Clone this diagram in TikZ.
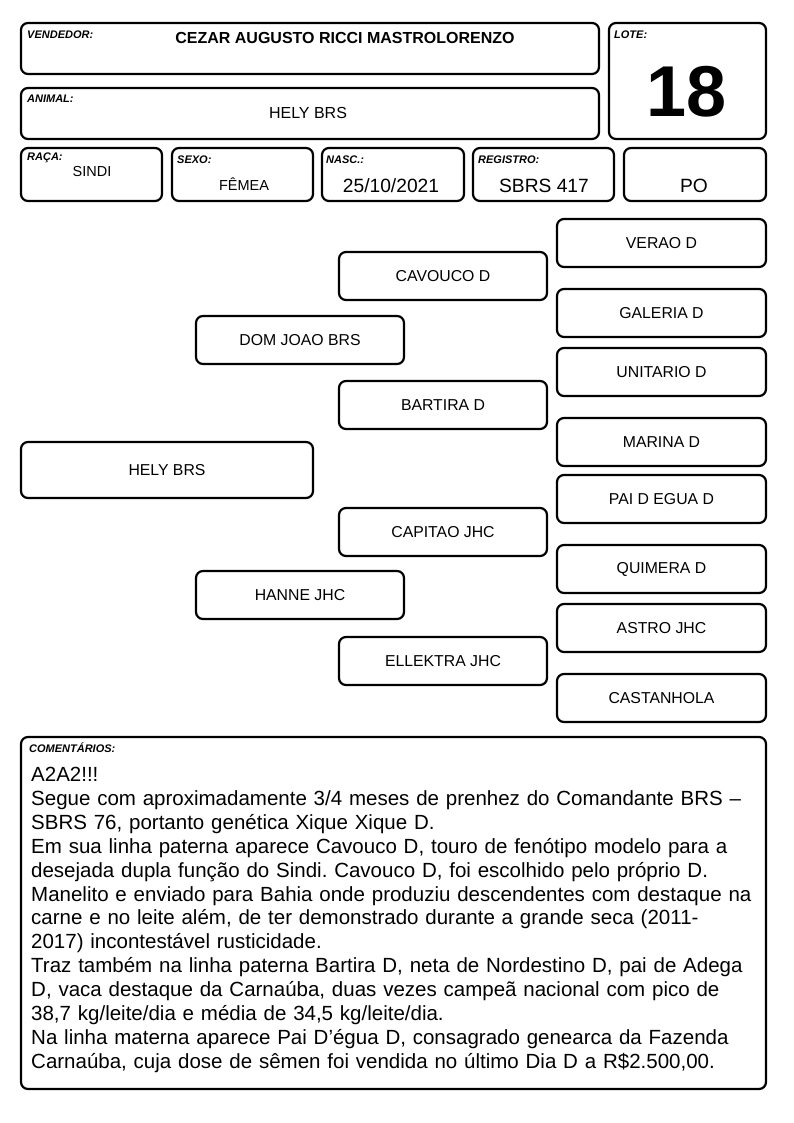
\documentclass[tikz,border=0pt]{standalone}
\usepackage{fontspec}
\setmainfont{Liberation Sans}
\usepackage{tikz}
\usetikzlibrary{positioning}
\frenchspacing

\begin{document}
\begin{tikzpicture}[
    x=1pt, y=-1pt,
    every node/.style={align=center, inner sep=0pt},
    campo/.style={
        rectangle, rounded corners=7pt, draw=black, line width=2.2pt,
        fill=white
    },
    pedbox/.style={
        campo, minimum width=208pt, minimum height=48pt,
        font=\fontsize{15.8}{18}\selectfont
    },
    rotulo/.style={anchor=west, font=\fontsize{11}{13}\selectfont\bfseries\itshape},
    valor/.style={font=\fontsize{16}{19}\selectfont}
]
\useasboundingbox (0,0) rectangle (794,1123);

% cabeçalho
\draw[campo] (21,23) rectangle (599,74);
\draw[campo] (609,23) rectangle (766,139);
\draw[campo] (21,88) rectangle (599,139);
\draw[campo] (21,148) rectangle (162,201);
\draw[campo] (172,148) rectangle (313,201);
\draw[campo] (322,148) rectangle (464,201);
\draw[campo] (473,148) rectangle (614,201);
\draw[campo] (624,148) rectangle (766,201);

\node[rotulo] (vendedorlbl) at (27,35) {VENDEDOR:};
\node[valor, font=\fontsize{16}{19}\selectfont\bfseries] (vendedor) at (345,38) {CEZAR AUGUSTO RICCI MASTROLORENZO};
\node[rotulo] (lotelbl) at (614,35) {LOTE:};
\node[font=\fontsize{72}{80}\selectfont\bfseries] (lote) at (687,92) {18};
\node[rotulo] (animallbl) at (27,99) {ANIMAL:};
\node[valor] (animal) at (308,113) {HELY BRS};

\node[rotulo] (racalbl) at (27,158) {RAÇA:};
\node[valor, font=\fontsize{14.5}{17}\selectfont] (raca) at (92,172) {SINDI};
\node[rotulo] (sexolbl) at (177,160) {SEXO:};
\node[valor, font=\fontsize{14.5}{17}\selectfont] (sexo) at (244,184) {FÊMEA};
\node[rotulo] (nasclbl) at (326,160) {NASC.:};
\node[valor, font=\fontsize{19.2}{22}\selectfont] (nasc) at (391,186) {25/10/2021};
\node[rotulo] (registrolbl) at (478,160) {REGISTRO:};
\node[valor, font=\fontsize{19.2}{22}\selectfont] (registro) at (544,186) {SBRS 417};
\node[valor, font=\fontsize{19.2}{22}\selectfont] (categoria) at (694,186) {PO};

% genealogia
\node[pedbox, minimum width=292pt, minimum height=56pt] (hely) at (167,470) {HELY BRS};

\node[pedbox] (domjoao) at (300,340) {DOM JOAO BRS};
\node[pedbox] (hanne) at (300,595) {HANNE JHC};

\node[pedbox] (cavouco) at (443,276) {CAVOUCO D};
\node[pedbox] (bartira) at (443,405) {BARTIRA D};
\node[pedbox] (capitao) at (443,532) {CAPITAO JHC};
\node[pedbox] (ellektra) at (443,661) {ELLEKTRA JHC};

\node[pedbox, minimum width=209pt] (verao) at (661.5,243) {VERAO D};
\node[pedbox, minimum width=209pt] (galeria) at (661.5,313) {GALERIA D};
\node[pedbox, minimum width=209pt] (unitario) at (661.5,372) {UNITARIO D};
\node[pedbox, minimum width=209pt] (marina) at (661.5,442) {MARINA D};
\node[pedbox, minimum width=209pt] (paidegua) at (661.5,499) {PAI D EGUA D};
\node[pedbox, minimum width=209pt] (quimera) at (661.5,569) {QUIMERA D};
\node[pedbox, minimum width=209pt] (astro) at (661.5,628) {ASTRO JHC};
\node[pedbox, minimum width=209pt] (castanhola) at (661.5,698) {CASTANHOLA};

% comentários
\draw[campo] (21,737) rectangle (766,1089);
\node[rotulo] (comentlbl) at (29,748) {COMENTÁRIOS:};
\node[anchor=north west, align=left, text width=760pt,
      font=\fontsize{20.5}{23.9}\selectfont] (comentarios) at (31,767) {%
A2A2!!!\\
Segue com aproximadamente 3/4 meses de prenhez do Comandante BRS –\\
SBRS 76, portanto genética Xique Xique D.\\
Em sua linha paterna aparece Cavouco D, touro de fenótipo modelo para a\\
desejada dupla função do Sindi. Cavouco D, foi escolhido pelo próprio D.\\
Manelito e enviado para Bahia onde produziu descendentes com destaque na\\
carne e no leite além, de ter demonstrado durante a grande seca (2011-\\
2017) incontestável rusticidade.\\
Traz também na linha paterna Bartira D, neta de Nordestino D, pai de Adega\\
D, vaca destaque da Carnaúba, duas vezes campeã nacional com pico de\\
38,7 kg/leite/dia e média de 34,5 kg/leite/dia.\\
Na linha materna aparece Pai D’égua D, consagrado genearca da Fazenda\\
Carnaúba, cuja dose de sêmen foi vendida no último Dia D a R\$2.500,00.};

\end{tikzpicture}
\end{document}
